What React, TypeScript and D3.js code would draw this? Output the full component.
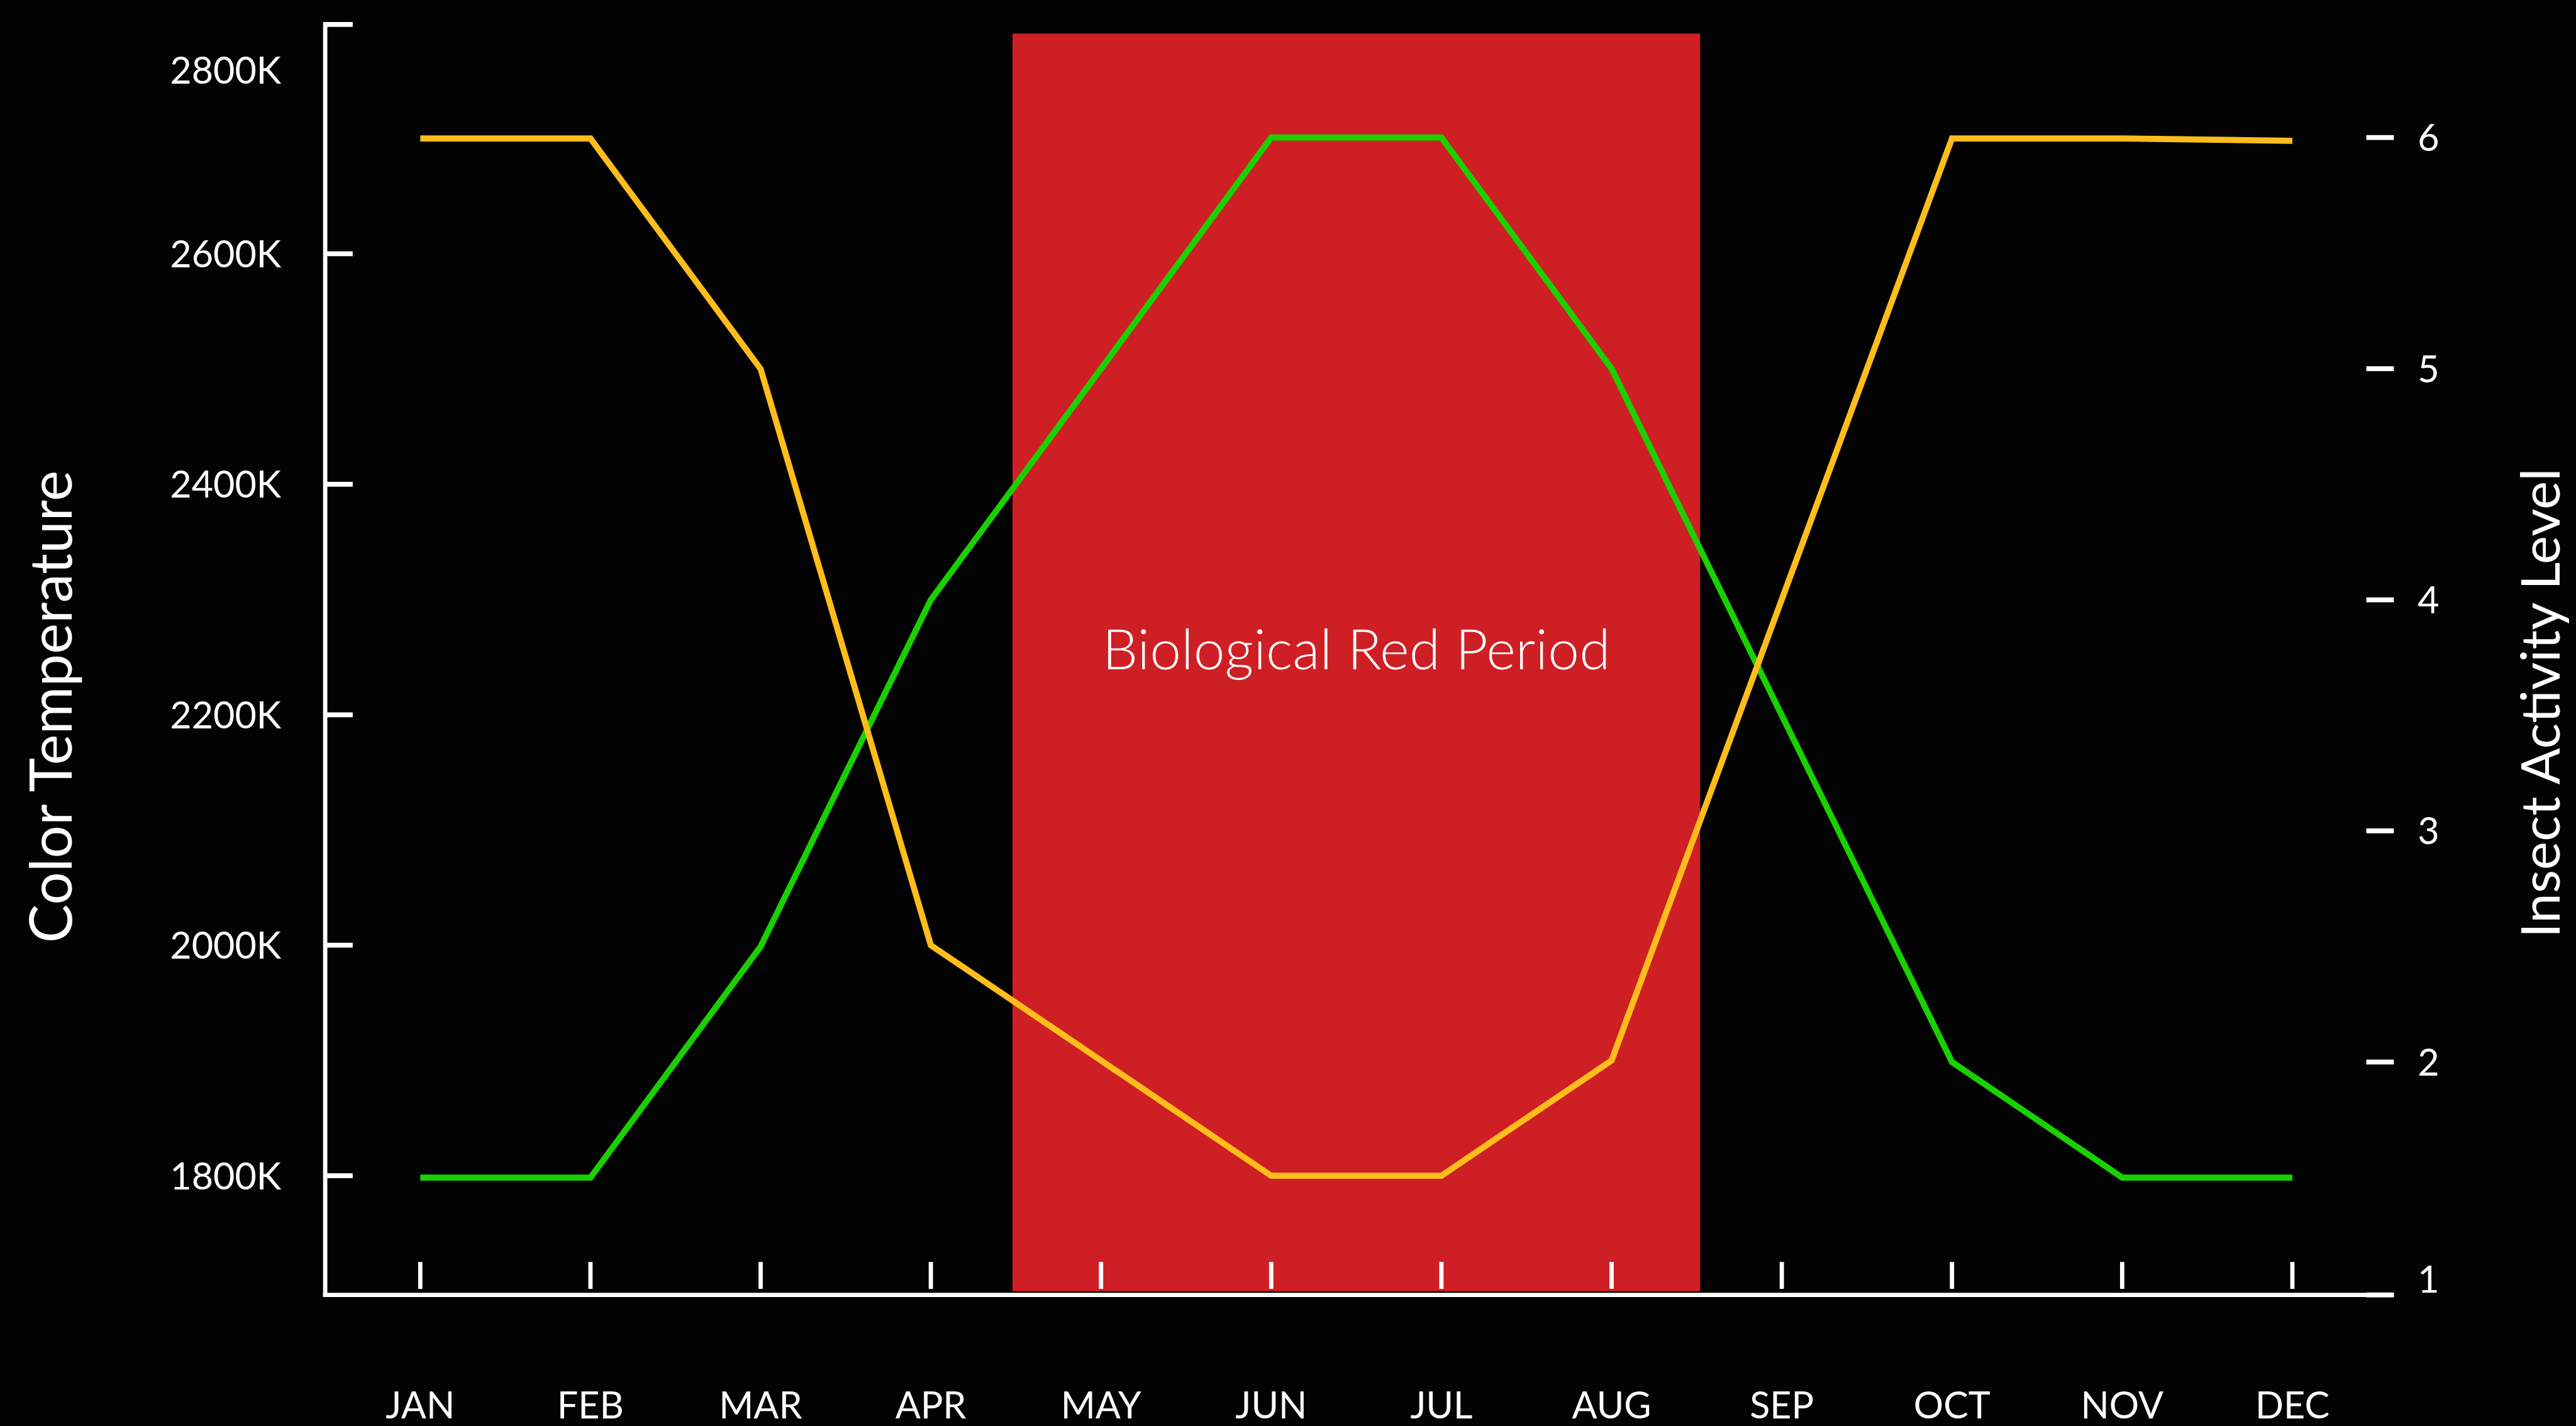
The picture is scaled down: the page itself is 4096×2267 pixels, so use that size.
import { useEffect, useRef } from 'react'
import * as d3 from 'd3'

const months = ['JAN', 'FEB', 'MAR', 'APR', 'MAY', 'JUN', 'JUL', 'AUG', 'SEP', 'OCT', 'NOV', 'DEC']
// yellow line, left axis (Kelvin)
const colorTemperature = [2700, 2700, 2500, 2000, 1900, 1800, 1800, 1900, 2300, 2700, 2700, 2698]
// green line, right axis
const insectActivity = [1.5, 1.5, 2.5, 4, 5, 6, 6, 5, 3.5, 2, 1.5, 1.5]
const tempTicks = [1800, 2000, 2200, 2400, 2600, 2800]
const activityTicks = [1, 2, 3, 4, 5, 6]
// red band, in month index / activity units
const redStart = 3.48
const redEnd = 7.52
const redTop = 6.45
const redLabel = 'Biological Red Period'

const FONT = "Lato, 'Open Sans', sans-serif"

export default function App() {
  const svgRef = useRef<SVGSVGElement>(null)

  useEffect(() => {
    document.body.style.margin = '0'
    document.body.style.background = '#030303'
    if (!svgRef.current) return
    renderChart()
  }, [])

  const renderChart = () => {
    if (!svgRef.current) return
    const width = 4212
    const height = 2331
    const k = 0.972

    d3.select(svgRef.current).selectAll('*').remove()

    const svg = d3.select(svgRef.current)
      .attr('width', 4096)
      .attr('height', 2267)

    const g = svg.append('g').attr('transform', `scale(${k})`)

    g.append('rect')
      .attr('width', width)
      .attr('height', height)
      .attr('fill', '#030303')

    const left = 532
    const right = 3916
    const bottom = 2118
    const top = 36

    const x = d3.scalePoint<string>().domain(months).range([687.5, 3750])
    const xi = d3.scaleLinear().domain([0, months.length - 1]).range([687.5, 3750])
    const yTemp = d3.scaleLinear().domain([1800, 2800]).range([1923, 38])
    const yAct = d3.scaleLinear().domain([1, 6]).range([2115, 225])

    // Red period band
    g.append('rect')
      .attr('x', xi(redStart))
      .attr('y', yAct(redTop))
      .attr('width', xi(redEnd) - xi(redStart))
      .attr('height', yAct(1) - yAct(redTop) - 3)
      .attr('fill', '#ce1f25')

    g.append('text')
      .text(redLabel)
      .attr('x', (xi(redStart) + xi(redEnd)) / 2)
      .attr('y', yAct(3.7))
      .attr('text-anchor', 'middle')
      .attr('fill', '#fff')
      .attr('font-family', FONT)
      .attr('font-weight', 300)
      .attr('font-size', 92)

    // Lines
    const tempLine = d3.line<number>()
      .x((_, i) => x(months[i]) as number)
      .y(d => yTemp(d))

    const actLine = d3.line<number>()
      .x((_, i) => x(months[i]) as number)
      .y(d => yAct(d))

    g.append('path')
      .datum(insectActivity)
      .attr('d', actLine)
      .attr('fill', 'none')
      .attr('stroke', '#1ad000')
      .attr('stroke-width', 10)

    g.append('path')
      .datum(colorTemperature)
      .attr('d', tempLine)
      .attr('fill', 'none')
      .attr('stroke', '#febd1b')
      .attr('stroke-width', 10)

    // Left axis
    g.append('line')
      .attr('x1', left).attr('x2', left)
      .attr('y1', top).attr('y2', bottom + 3.5)
      .attr('stroke', '#fff')
      .attr('stroke-width', 7)

    tempTicks.forEach(t => {
      const y = t === 2800 ? top + 4 : yTemp(t)
      g.append('line')
        .attr('x1', left).attr('x2', left + 45)
        .attr('y1', y).attr('y2', y)
        .attr('stroke', '#fff')
        .attr('stroke-width', 8)
      g.append('text')
        .text(`${t}K`)
        .attr('x', 460)
        .attr('y', (t === 2800 ? y + 75 : y) + 22)
        .attr('text-anchor', 'end')
        .attr('fill', '#fff')
        .attr('font-family', FONT)
        .attr('font-size', 61)
    })

    // Bottom axis
    g.append('line')
      .attr('x1', left - 3.5).attr('x2', right)
      .attr('y1', bottom).attr('y2', bottom)
      .attr('stroke', '#fff')
      .attr('stroke-width', 7)

    months.forEach(m => {
      const xx = x(m) as number
      g.append('line')
        .attr('x1', xx).attr('x2', xx)
        .attr('y1', 2064).attr('y2', 2108)
        .attr('stroke', '#fff')
        .attr('stroke-width', 7)
      g.append('text')
        .text(m)
        .attr('x', xx)
        .attr('y', 2320)
        .attr('text-anchor', 'middle')
        .attr('fill', '#fff')
        .attr('font-family', FONT)
        .attr('font-size', 61)
    })

    // Right axis (ticks only)
    activityTicks.forEach(v => {
      const y = v === 1 ? bottom : yAct(v)
      g.append('line')
        .attr('x1', right - 45).attr('x2', right)
        .attr('y1', y).attr('y2', y)
        .attr('stroke', '#fff')
        .attr('stroke-width', 8)
      g.append('text')
        .text(v)
        .attr('x', 3955)
        .attr('y', (v === 1 ? y - 26 : y) + 22)
        .attr('text-anchor', 'start')
        .attr('fill', '#fff')
        .attr('font-family', FONT)
        .attr('font-size', 61)
    })

    // Axis titles
    g.append('text')
      .text('Color Temperature')
      .attr('transform', `translate(117,1156) rotate(-90)`)
      .attr('text-anchor', 'middle')
      .attr('fill', '#fff')
      .attr('font-family', FONT)
      .attr('font-size', 95)

    g.append('text')
      .text('Insect Activity Level')
      .attr('transform', `translate(4187,1150) rotate(-90)`)
      .attr('text-anchor', 'middle')
      .attr('fill', '#fff')
      .attr('font-family', FONT)
      .attr('font-size', 88)
  }

  return (
    <svg ref={svgRef} style={{ display: 'block', position: 'absolute', left: 0, top: 0 }}></svg>
  )
}
